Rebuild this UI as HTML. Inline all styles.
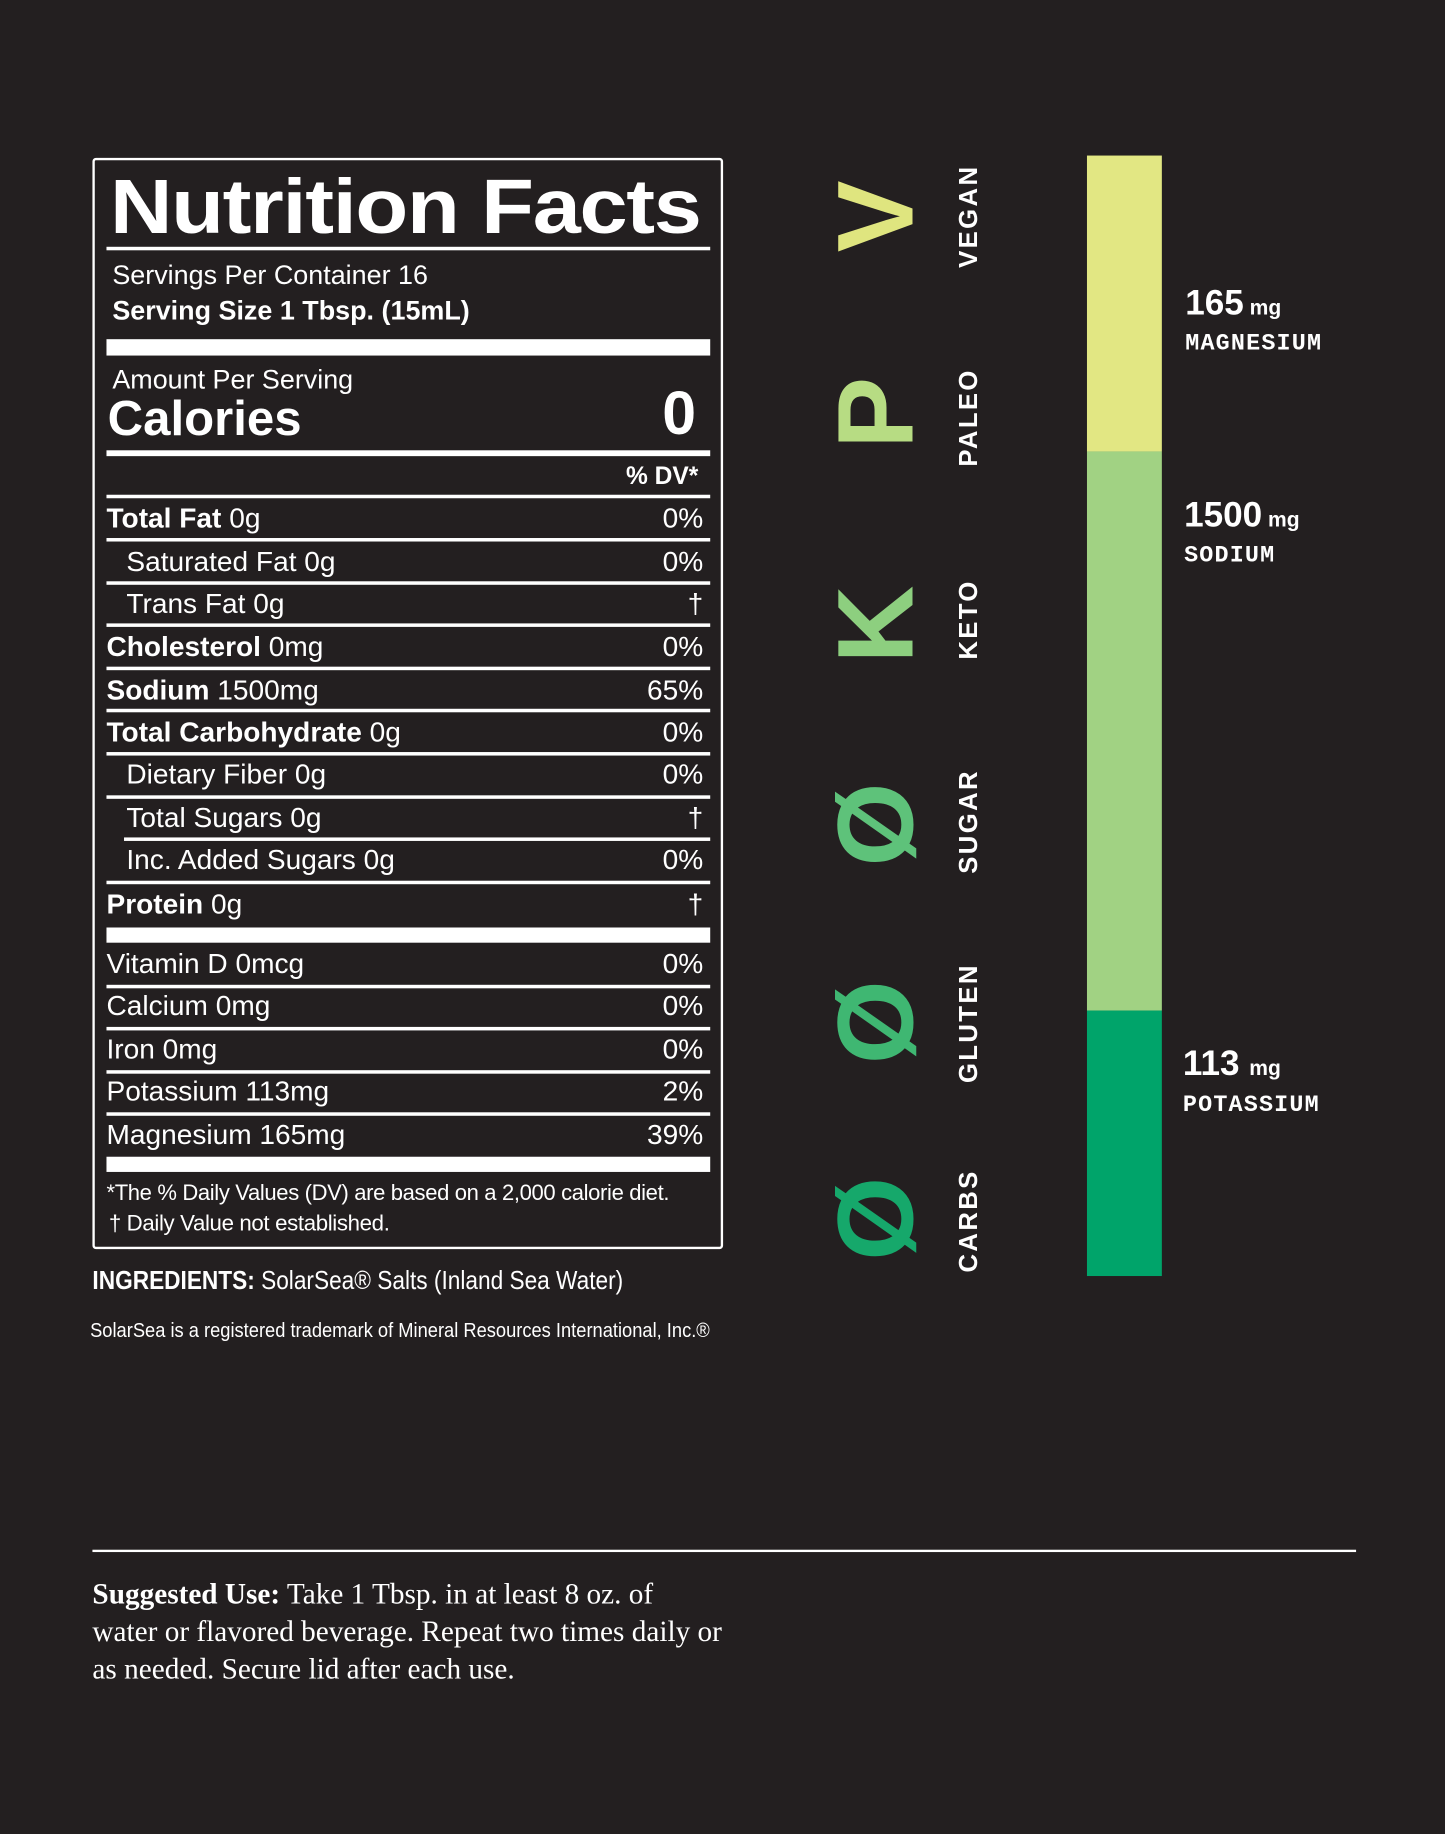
<!DOCTYPE html>
<html><head><meta charset="utf-8"><style>
html,body{margin:0;padding:0;background:#231f20;}
body{width:1445px;height:1834px;overflow:hidden;position:relative;}
#s{position:absolute;left:0;top:0;width:1235px;height:1568px;transform:scale(1.17004,1.1696);transform-origin:0 0;font-family:"Liberation Sans",sans-serif;color:#fff;}
.a{position:absolute;white-space:nowrap;}
.ln{position:absolute;background:#fff;left:91px;width:516px;}
.r{position:absolute;left:91px;width:510px;font-size:24px;line-height:30px;height:30px;}
.r span.v{position:absolute;right:0;top:0;}
.r b{font-weight:900;}
.in{padding-left:17px;box-sizing:border-box;}
.big{position:absolute;left:712px;width:74px;font-size:92px;font-weight:900;line-height:74px;text-align:center;}
.lab{position:absolute;font-size:22px;font-weight:700;letter-spacing:2px;transform:rotate(-90deg);transform-origin:0 0;left:815px;}
.mono{font-family:"Liberation Mono",monospace;font-weight:700;font-size:20px;letter-spacing:1px;}
</style></head><body><div id="s">
<div class="a" style="left:79px;top:135px;width:535px;height:929px;border:2px solid #fff;border-radius:3px;"></div>
<div class="a" style="left:94px;top:138px;font-size:66px;font-weight:900;letter-spacing:-1px;transform:scaleX(1.12);transform-origin:0 0;">Nutrition Facts</div>
<div class="ln" style="top:211px;height:3px;"></div>
<div class="a" style="left:96px;top:222px;font-size:23px;">Servings Per Container 16</div>
<div class="a" style="left:96px;top:252px;font-size:23px;font-weight:900;">Serving Size 1 Tbsp. (15mL)</div>
<div class="ln" style="top:290px;height:14px;"></div>
<div class="a" style="left:96px;top:311px;font-size:23px;">Amount Per Serving</div>
<div class="a" style="left:92px;top:334px;font-size:42px;font-weight:900;">Calories</div>
<div class="a" style="left:566px;top:324px;font-size:52px;font-weight:900;">0</div>
<div class="ln" style="top:385px;height:5px;"></div>
<div class="a" style="left:535px;top:396px;font-size:21px;font-weight:900;">% DV*</div>
<div class="ln" style="top:423px;height:3px;"></div>
<div class="r" style="top:429px;"><b>Total Fat</b> 0g<span class="v">0%</span></div>
<div class="ln" style="top:460px;height:3px;"></div>
<div class="r in" style="top:466px;">Saturated Fat 0g<span class="v">0%</span></div>
<div class="ln" style="top:497px;height:3px;"></div>
<div class="r in" style="top:502px;">Trans Fat 0g<span class="v">†</span></div>
<div class="ln" style="top:533px;height:3px;"></div>
<div class="r" style="top:539px;"><b>Cholesterol</b> 0mg<span class="v">0%</span></div>
<div class="ln" style="top:570px;height:3px;"></div>
<div class="r" style="top:576px;"><b>Sodium</b> 1500mg<span class="v">65%</span></div>
<div class="ln" style="top:606px;height:3px;"></div>
<div class="r" style="top:612px;"><b>Total Carbohydrate</b> 0g<span class="v">0%</span></div>
<div class="ln" style="top:643px;height:3px;"></div>
<div class="r in" style="top:648px;">Dietary Fiber 0g<span class="v">0%</span></div>
<div class="ln" style="top:680px;height:3px;"></div>
<div class="r in" style="top:685px;">Total Sugars 0g<span class="v">†</span></div>
<div class="ln" style="top:716px;height:3px;left:106px;width:501px;"></div>
<div class="r in" style="top:721px;">Inc. Added Sugars 0g<span class="v">0%</span></div>
<div class="ln" style="top:753px;height:3px;"></div>
<div class="r" style="top:759px;"><b>Protein</b> 0g<span class="v">†</span></div>
<div class="ln" style="top:793px;height:13px;"></div>
<div class="r" style="top:810px;">Vitamin D 0mcg<span class="v">0%</span></div>
<div class="ln" style="top:842px;height:3px;"></div>
<div class="r" style="top:846px;">Calcium 0mg<span class="v">0%</span></div>
<div class="ln" style="top:878px;height:3px;"></div>
<div class="r" style="top:883px;">Iron 0mg<span class="v">0%</span></div>
<div class="ln" style="top:915px;height:3px;"></div>
<div class="r" style="top:919px;">Potassium 113mg<span class="v">2%</span></div>
<div class="ln" style="top:951px;height:3px;"></div>
<div class="r" style="top:956px;">Magnesium 165mg<span class="v">39%</span></div>
<div class="ln" style="top:989px;height:13px;"></div>
<div class="a" style="left:91px;top:1010px;font-size:19px;transform:scaleX(0.99);transform-origin:0 0;letter-spacing:-0.3px;">*The % Daily Values (DV) are based on a 2,000 calorie diet.</div>
<div class="a" style="left:93px;top:1036px;font-size:19px;letter-spacing:-0.3px;">† Daily Value not established.</div>
<div class="a" style="left:79px;top:1082px;font-size:22px;transform:scaleX(0.88);transform-origin:0 0;"><b>INGREDIENTS:</b> SolarSea® Salts (Inland Sea Water)</div>
<div class="a" style="left:77px;top:1128px;font-size:17px;transform:scaleX(0.92);transform-origin:0 0;">SolarSea is a registered trademark of Mineral Resources International, Inc.®</div>

<div class="big" style="top:148px;color:#dfe57f;transform:rotate(-90deg);">V</div>
<div class="big" style="top:316px;color:#b7dc83;transform:rotate(-90deg);">P</div>
<div class="big" style="top:497px;color:#8dcf7f;transform:rotate(-90deg);">K</div>
<div class="big" style="top:668px;color:#5ec27a;transform:rotate(-90deg);">Ø</div>
<div class="big" style="top:837px;color:#3fb772;transform:rotate(-90deg);">Ø</div>
<div class="big" style="top:1005px;color:#16a86b;transform:rotate(-90deg);">Ø</div>
<div class="lab" style="top:229px;">VEGAN</div>
<div class="lab" style="top:399px;">PALEO</div>
<div class="lab" style="top:564px;">KETO</div>
<div class="lab" style="top:747px;">SUGAR</div>
<div class="lab" style="top:926px;">GLUTEN</div>
<div class="lab" style="top:1088px;">CARBS</div>

<div class="a" style="left:929px;top:133px;width:64px;height:253px;background:#e2e783;"></div>
<div class="a" style="left:929px;top:386px;width:64px;height:478px;background:#a1d283;"></div>
<div class="a" style="left:929px;top:864px;width:64px;height:227px;background:#00a46a;"></div>

<div class="a" style="left:1013px;top:243px;font-size:30px;font-weight:900;">165<span style="font-size:18px;font-weight:700;"> mg</span></div>
<div class="a mono" style="left:1013px;top:283px;">MAGNESIUM</div>
<div class="a" style="left:1012px;top:424px;font-size:30px;font-weight:900;">1500<span style="font-size:18px;font-weight:700;"> mg</span></div>
<div class="a mono" style="left:1012px;top:464px;">SODIUM</div>
<div class="a" style="left:1011px;top:893px;font-size:30px;font-weight:900;">113 <span style="font-size:18px;font-weight:700;"> mg</span></div>
<div class="a mono" style="left:1011px;top:934px;">POTASSIUM</div>

<div class="a" style="left:79px;top:1325px;width:1080px;height:2px;background:#fff;"></div>
<div class="a" style="left:79px;top:1348px;font-family:'Liberation Serif',serif;font-size:25px;line-height:32px;white-space:normal;width:540px;"><b>Suggested Use:</b> Take 1 Tbsp. in at least 8 oz. of water or flavored beverage. Repeat two times daily or as needed. Secure lid after each use.</div>
</div></body></html>
